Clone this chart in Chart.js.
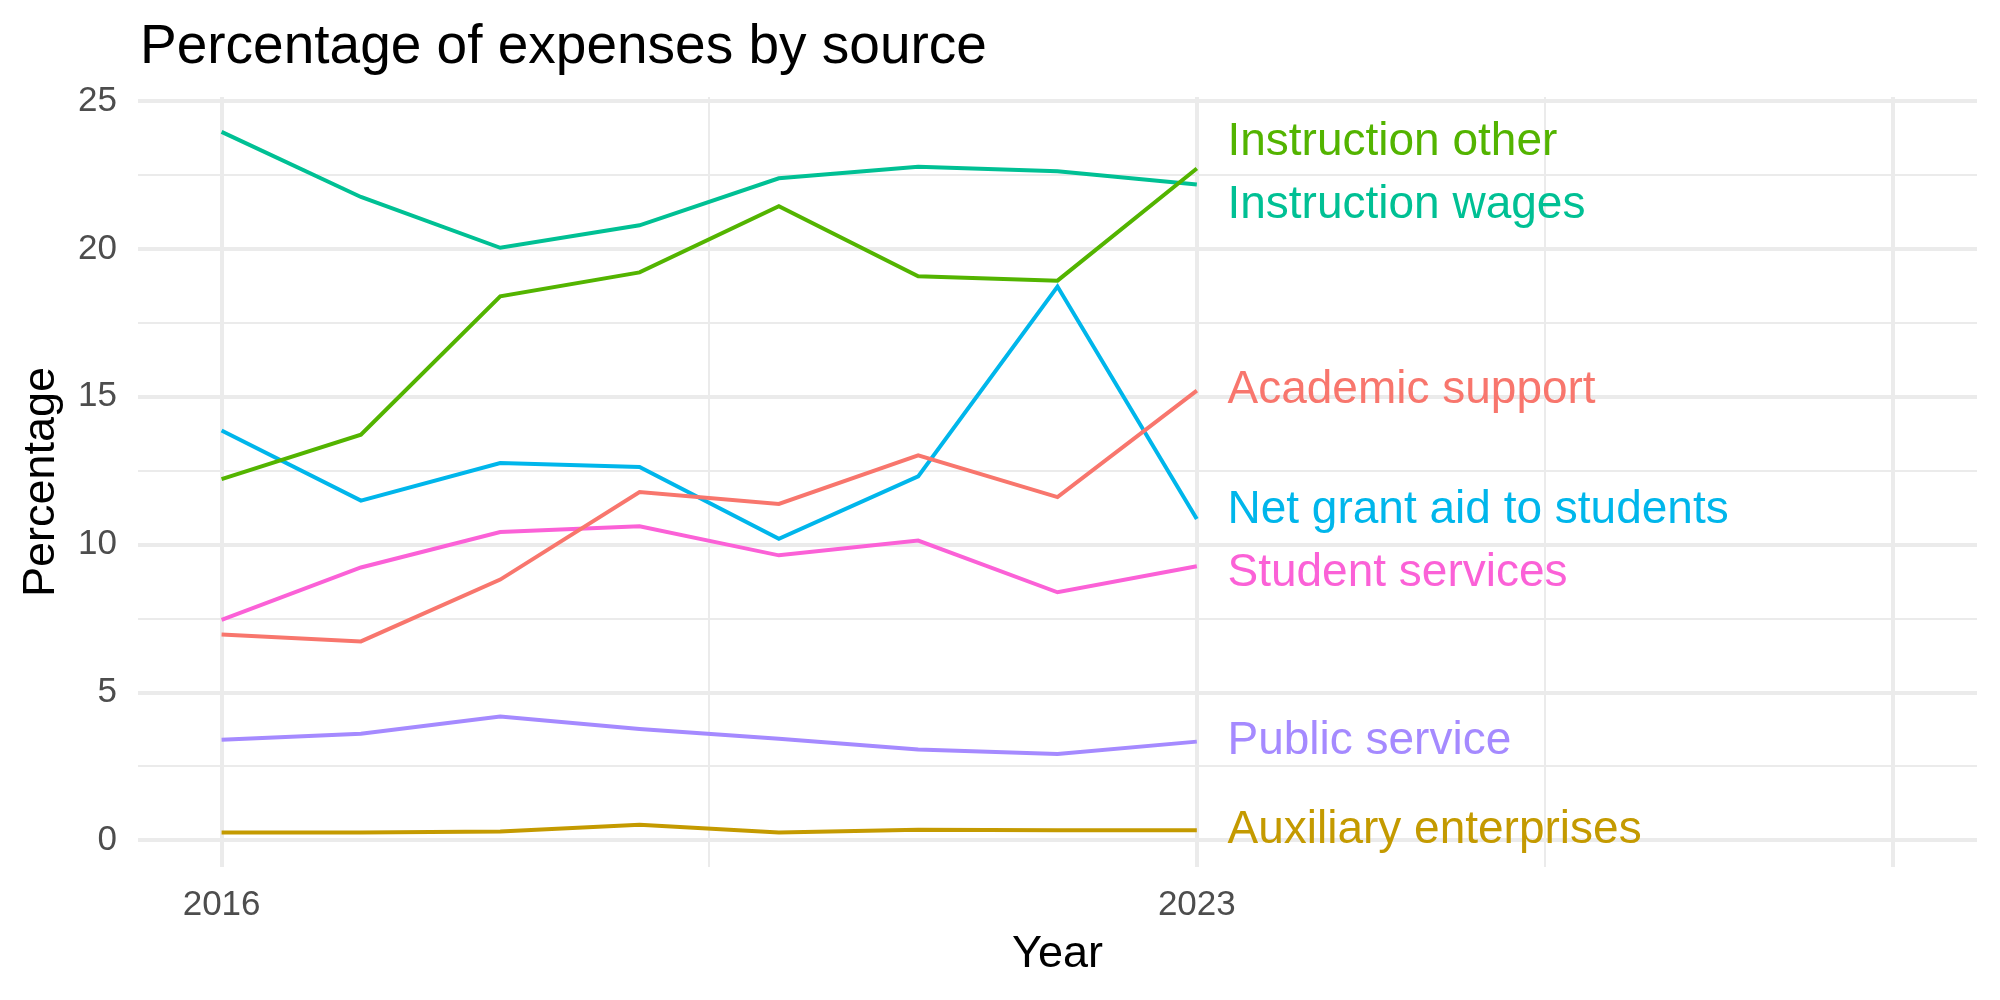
<!DOCTYPE html>
<html>
<head>
<meta charset="utf-8">
<script src="https://cdn.jsdelivr.net/npm/chart.js@4.4.1/dist/chart.umd.min.js"></script>
<style>
  html, body { margin: 0; padding: 0; background: #ffffff; }
  #wrap { width: 2000px; height: 1000px; }
</style>
</head>
<body>
<div id="wrap"><canvas id="expensesChart" width="2000" height="1000"></canvas></div>
<script>
const years = [2016, 2017, 2018, 2019, 2020, 2021, 2022, 2023];

const categories = [
  'Academic support',
  'Auxiliary enterprises',
  'Instruction other',
  'Instruction wages',
  'Net grant aid to students',
  'Public service',
  'Student services'
];

const academicSupport = [6.96, 6.73, 8.82, 11.78, 11.38, 13.02, 11.61, 15.21];
const auxiliaryEnterprises = [0.27, 0.27, 0.30, 0.53, 0.27, 0.36, 0.34, 0.34];
const instructionOther = [12.22, 13.72, 18.40, 19.21, 21.45, 19.08, 18.93, 22.72];
const instructionWages = [23.96, 21.76, 20.04, 20.80, 22.39, 22.78, 22.63, 22.18];
const netGrantAid = [13.86, 11.49, 12.76, 12.63, 10.20, 12.31, 18.73, 10.87];
const publicService = [3.40, 3.61, 4.19, 3.77, 3.44, 3.07, 2.92, 3.34];
const studentServices = [7.46, 9.23, 10.43, 10.62, 9.64, 10.14, 8.39, 9.27];

// where the end labels sit (repelled a little from the last values)
const labelValues = [15.21, 0.33, 23.62, 21.48, 11.15, 3.34, 9.03];
const labelYear = 2023.22;

const xTicks = [2016, 2019.5, 2023, 2025.5, 2028];
const xTickLabels = { 2016: '2016', 2023: '2023' };
const yTicks = [0, 2.5, 5, 7.5, 10, 12.5, 15, 17.5, 20, 22.5, 25];

const colors = ['#F8766D', '#C49A00', '#53B400', '#00C094', '#00B6EB', '#A58AFF', '#FB61D7'];
const series = [academicSupport, auxiliaryEnterprises, instructionOther, instructionWages,
  netGrantAid, publicService, studentServices];

const FONT = '"Liberation Sans", Arial, Helvetica, sans-serif';

const datasets = categories.map((name, i) => ({
  label: name,
  data: years.map((y, j) => ({ x: y, y: series[i][j] })),
  borderColor: colors[i],
  backgroundColor: colors[i],
  borderWidth: 4,
  pointRadius: 0,
  tension: 0,
  fill: false
}));

// title, axis titles and the end labels
const textPlugin = {
  id: 'ggText',
  afterDatasetsDraw(chart) {
    const ctx = chart.ctx;
    const area = chart.chartArea;
    const xs = chart.scales.x;
    const ys = chart.scales.y;
    ctx.save();

    ctx.font = '46px ' + FONT;
    ctx.textAlign = 'left';
    ctx.textBaseline = 'middle';
    categories.forEach((name, i) => {
      ctx.fillStyle = colors[i];
      ctx.fillText(name, xs.getPixelForValue(labelYear), ys.getPixelForValue(labelValues[i]));
    });

    ctx.fillStyle = '#000000';
    ctx.font = '55px ' + FONT;
    ctx.textBaseline = 'alphabetic';
    ctx.fillText('Percentage of expenses by source', 140, 63);

    ctx.font = '45px ' + FONT;
    ctx.textAlign = 'center';
    ctx.textBaseline = 'middle';
    ctx.fillText('Year', (area.left + area.right) / 2, 955);

    ctx.translate(42, (area.top + area.bottom) / 2);
    ctx.rotate(-Math.PI / 2);
    ctx.fillText('Percentage', 0, 0);
    ctx.restore();
  }
};

new Chart(document.getElementById('expensesChart'), {
  type: 'line',
  data: { datasets: datasets },
  plugins: [textPlugin],
  options: {
    responsive: false,
    animation: false,
    layout: { padding: { top: 97, right: 23, left: 0, bottom: 0 } },
    plugins: {
      legend: { display: false },
      tooltip: { enabled: false },
      title: { display: false }
    },
    scales: {
      x: {
        type: 'linear',
        min: 2015.4,
        max: 2028.6,
        afterBuildTicks: (scale) => { scale.ticks = xTicks.map(v => ({ value: v })); },
        afterFit: (scale) => { scale.height = 133; },
        border: { display: false },
        grid: {
          drawTicks: false,
          color: '#EBEBEB',
          lineWidth: (c) => (xTickLabels[c.tick.value] !== undefined || c.tick.value === 2028) ? 4 : 2
        },
        ticks: {
          autoSkip: false,
          maxRotation: 0,
          padding: 17,
          color: '#4D4D4D',
          font: { family: FONT, size: 35 },
          callback: (v) => xTickLabels[v] || ''
        }
      },
      y: {
        type: 'linear',
        min: -0.9,
        max: 25.14,
        afterBuildTicks: (scale) => { scale.ticks = yTicks.map(v => ({ value: v })); },
        afterFit: (scale) => { scale.width = 138; },
        border: { display: false },
        grid: {
          drawTicks: false,
          color: '#EBEBEB',
          lineWidth: (c) => (c.tick.value % 5 === 0) ? 4 : 2
        },
        ticks: {
          autoSkip: false,
          padding: 21,
          color: '#4D4D4D',
          font: { family: FONT, size: 35 },
          callback: (v) => (v % 5 === 0) ? String(v) : ''
        }
      }
    }
  }
});
</script>
</body>
</html>
